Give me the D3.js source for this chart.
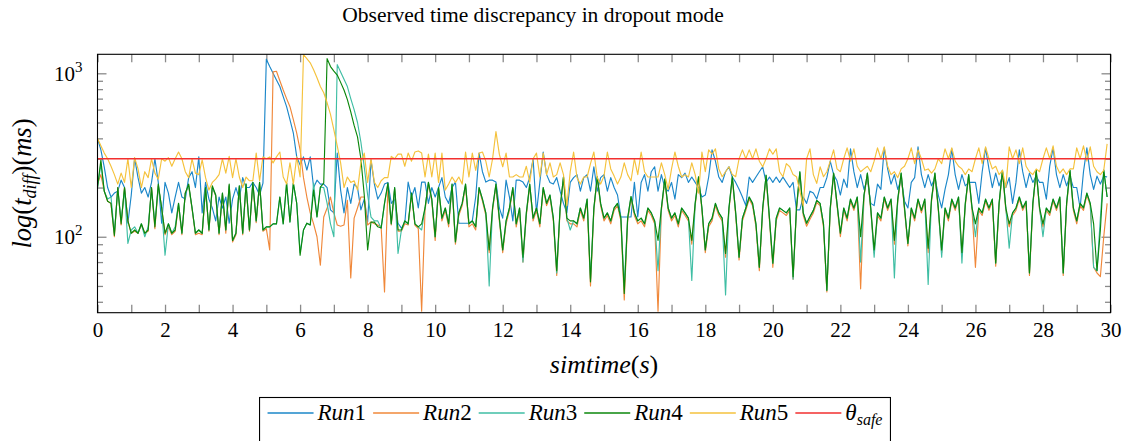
<!DOCTYPE html>
<html>
<head>
<meta charset="utf-8">
<title>Observed time discrepancy in dropout mode</title>
<script src="https://d3js.org/d3.v7.min.js"></script>
<style>
  body { margin: 0; background: #fff; }
  svg text { font-family: "Liberation Serif", "Times New Roman", serif; fill: #000; }
</style>
</head>
<body>
<div id="chart"></div>
<script>
// sample spacing of every run (s)
var dt = 0.1;

// t_diff (ms), one row per second of simtime
var run1 = [
  400, 340, 267, 200, 175, 185, 190, 222, 200, 121,
  180, 303, 230, 185, 200, 175, 215, 300, 215, 121,
  215, 185, 140, 175, 215, 175, 170, 230, 250, 200,
  308, 140, 215, 170, 150, 125, 175, 150, 175, 121,
  170, 200, 170, 230, 200, 200, 215, 200, 180, 213,
  1220, 1100, 1000, 910, 830, 720, 625, 520, 430, 308,
  275, 308, 256, 308, 200, 222, 210, 210, 200, 146,
  140, 325, 193, 140, 200, 160, 210, 200, 146, 170,
  123, 295, 210, 170, 185, 210, 215, 160, 170, 121,
  113, 121, 216, 175, 200, 150, 216, 216, 160, 200,
  175, 200, 230, 175, 160, 200, 216, 121, 121, 121,
  121, 125, 175, 325, 250, 216, 222, 222, 216, 150,
  130, 222, 175, 125, 222, 222, 216, 200, 230, 300,
  140, 215, 330, 240, 215, 210, 230, 190, 160, 140,
  215, 230, 240, 190, 230, 240, 190, 268, 190, 230,
  240, 190, 230, 200, 180, 132, 132, 132, 132, 215,
  132, 215, 240, 190, 250, 268, 190, 240, 200, 190,
  215, 170, 240, 230, 245, 215, 232, 215, 200, 175,
  180, 232, 340, 290, 232, 215, 250, 268, 232, 215,
  195, 175, 155, 232, 215, 232, 250, 268, 215, 232,
  215, 232, 215, 232, 215, 200, 215, 146, 146, 175,
  160, 190, 185, 170, 200, 200, 230, 290, 240, 220,
  180, 225, 200, 345, 250, 200, 240, 195, 225, 160,
  155, 210, 195, 350, 260, 210, 240, 195, 225, 165,
  150, 215, 230, 355, 240, 200, 240, 205, 230, 180,
  150, 195, 240, 345, 240, 195, 240, 205, 215, 215,
  215, 160, 250, 350, 260, 200, 245, 205, 235, 200,
  230, 160, 215, 340, 250, 200, 245, 215, 235, 215,
  215, 170, 270, 350, 240, 200, 240, 205, 235, 200,
  200, 150, 250, 350, 240, 195, 235, 210, 235, 232
];
var run2 = [
  210, 240, 190, 165, 160, 100, 200, 118, 200, 125,
  105, 108, 105, 118, 105, 108, 200, 112, 205, 150,
  103, 115, 103, 108, 155, 103, 185, 205, 148, 103,
  105, 103, 195, 108, 200, 178, 103, 182, 105, 205,
  93, 103, 200, 103, 205, 108, 210, 122, 210, 108,
  112, 83, 1020, 1030, 900, 790, 700, 625, 520, 430,
  340, 230, 175, 140, 120, 100, 67, 132, 150, 175,
  140, 118, 116, 118, 167, 56, 130, 150, 175, 175,
  118, 123, 120, 118, 115, 46, 200, 118, 195, 108,
  108, 120, 118, 180, 118, 112, 35, 145, 210, 165,
  95, 195, 125, 145, 115, 205, 90, 135, 155, 205,
  115, 120, 110, 195, 165, 135, 80, 145, 205, 125,
  80, 120, 145, 195, 115, 145, 70, 135, 205, 125,
  145, 115, 195, 155, 175, 125, 58, 145, 228, 125,
  120, 120, 115, 145, 125, 165, 50, 145, 228, 155,
  125, 135, 120, 145, 155, 125, 41, 125, 172, 135,
  120, 125, 115, 145, 135, 120, 35, 145, 220, 145,
  125, 135, 115, 145, 135, 125, 90, 155, 228, 145,
  80, 115, 125, 155, 135, 125, 75, 145, 228, 135,
  72, 125, 145, 170, 155, 115, 62, 145, 232, 125,
  65, 125, 145, 140, 135, 145, 55, 145, 245, 135,
  116, 128, 140, 162, 155, 115, 46, 145, 240, 155,
  100, 145, 125, 165, 145, 170, 48, 175, 240, 145,
  80, 135, 125, 170, 145, 165, 90, 165, 240, 145,
  88, 145, 125, 165, 140, 165, 80, 165, 240, 145,
  80, 145, 125, 165, 145, 170, 77, 155, 235, 145,
  65, 145, 135, 165, 145, 165, 66, 155, 250, 145,
  115, 135, 145, 170, 145, 160, 58, 155, 250, 145,
  115, 145, 135, 165, 145, 170, 58, 155, 250, 145,
  120, 155, 145, 180, 155, 65, 60, 57, 100, 160
];
var run3 = [
  200, 280, 190, 170, 175, 105, 195, 125, 195, 91,
  110, 115, 105, 120, 100, 115, 195, 120, 205, 150,
  77, 120, 105, 115, 160, 105, 185, 205, 150, 105,
  110, 105, 200, 110, 200, 180, 105, 185, 110, 205,
  95, 105, 205, 105, 210, 110, 215, 125, 215, 110,
  115, 115, 120, 120, 175, 120, 213, 123, 213, 160,
  80, 110, 121, 118, 213, 132, 201, 200, 160, 120,
  100, 1130, 1020, 920, 830, 700, 600, 500, 380, 267,
  180, 132, 125, 125, 113, 160, 210, 120, 200, 79,
  110, 125, 120, 185, 120, 115, 110, 150, 215, 170,
  100, 200, 130, 150, 120, 210, 93, 140, 160, 210,
  120, 125, 115, 200, 170, 140, 50, 150, 210, 130,
  83, 125, 150, 200, 120, 150, 70, 140, 210, 130,
  150, 120, 200, 160, 180, 130, 60, 150, 233, 130,
  110, 125, 120, 150, 130, 170, 55, 150, 233, 160,
  130, 140, 125, 150, 160, 130, 50, 130, 176, 140,
  125, 130, 120, 150, 140, 125, 62, 150, 225, 150,
  130, 140, 120, 150, 140, 130, 54, 160, 233, 150,
  83, 120, 130, 160, 140, 130, 44, 150, 233, 140,
  75, 130, 150, 175, 160, 120, 65, 150, 238, 130,
  69, 130, 150, 145, 140, 150, 55, 150, 250, 140,
  121, 133, 145, 167, 160, 120, 47, 150, 245, 160,
  105, 150, 130, 170, 150, 175, 70, 180, 245, 150,
  75, 140, 130, 175, 150, 170, 56, 170, 245, 150,
  91, 150, 130, 170, 145, 170, 51, 170, 245, 150,
  75, 150, 130, 170, 150, 175, 69, 160, 240, 150,
  100, 150, 140, 170, 150, 170, 69, 160, 255, 150,
  85, 140, 150, 175, 150, 165, 60, 160, 255, 150,
  100, 150, 140, 170, 150, 175, 60, 160, 255, 150,
  125, 160, 150, 185, 160, 65, 62, 130, 256, 175
];
var run4 = [
  200, 295, 190, 165, 160, 102, 200, 120, 200, 125,
  105, 110, 105, 120, 105, 110, 200, 115, 210, 150,
  105, 120, 105, 110, 160, 105, 185, 210, 150, 105,
  110, 105, 200, 110, 205, 180, 105, 185, 110, 210,
  95, 105, 205, 105, 210, 110, 215, 125, 215, 110,
  115, 115, 120, 120, 175, 120, 213, 123, 213, 160,
  77, 110, 121, 118, 193, 132, 201, 213, 1230, 1100,
  1030, 975, 880, 790, 690, 580, 480, 408, 300, 180,
  83, 123, 123, 115, 113, 160, 213, 120, 200, 110,
  110, 125, 120, 185, 120, 115, 120, 150, 215, 170,
  100, 200, 130, 150, 120, 210, 93, 140, 160, 210,
  120, 125, 115, 200, 170, 140, 83, 150, 210, 130,
  83, 125, 150, 200, 120, 150, 75, 140, 210, 130,
  150, 120, 200, 160, 180, 130, 62, 150, 233, 130,
  125, 125, 120, 150, 130, 170, 53, 150, 233, 160,
  130, 140, 125, 150, 160, 130, 45, 130, 176, 140,
  125, 130, 120, 150, 140, 125, 95, 150, 225, 150,
  130, 140, 120, 150, 140, 130, 95, 160, 233, 150,
  83, 120, 130, 160, 140, 130, 79, 150, 233, 140,
  75, 130, 150, 175, 160, 120, 65, 150, 238, 130,
  69, 130, 150, 145, 140, 150, 57, 150, 250, 140,
  121, 133, 145, 167, 160, 120, 47, 150, 245, 160,
  105, 150, 130, 170, 150, 175, 100, 180, 245, 150,
  83, 140, 130, 175, 150, 170, 95, 170, 245, 150,
  91, 150, 130, 170, 145, 170, 85, 170, 245, 150,
  83, 150, 130, 170, 150, 175, 80, 160, 240, 150,
  120, 150, 140, 170, 150, 170, 69, 160, 255, 150,
  120, 140, 150, 175, 150, 165, 60, 160, 255, 150,
  120, 150, 140, 170, 150, 175, 60, 160, 255, 150,
  125, 160, 150, 185, 160, 120, 62, 110, 256, 175
];
var run5 = [
  400, 360, 325, 300, 270, 240, 210, 245, 215, 300,
  200, 305, 260, 200, 250, 230, 300, 245, 225, 300,
  290, 305, 270, 300, 330, 300, 250, 230, 300, 245,
  240, 295, 230, 193, 215, 225, 240, 300, 245, 310,
  230, 300, 232, 200, 232, 220, 220, 325, 220, 308,
  300, 308, 283, 308, 330, 232, 210, 283, 210, 308,
  232, 1300, 1230, 1160, 1050, 940, 830, 760, 660, 560,
  450, 360, 283, 200, 232, 215, 220, 193, 283, 325,
  215, 300, 215, 200, 220, 230, 230, 310, 300, 320,
  320, 270, 325, 290, 330, 335, 325, 232, 320, 232,
  325, 215, 325, 193, 210, 232, 215, 232, 210, 330,
  232, 325, 255, 325, 330, 290, 232, 300, 440, 320,
  268, 325, 232, 232, 240, 232, 232, 270, 215, 300,
  325, 232, 325, 240, 283, 232, 240, 283, 240, 155,
  250, 330, 230, 210, 232, 232, 280, 330, 230, 210,
  235, 330, 260, 235, 210, 232, 283, 240, 220, 300,
  240, 330, 250, 232, 232, 232, 232, 283, 240, 195,
  260, 330, 270, 232, 240, 232, 283, 240, 185, 330,
  250, 340, 320, 345, 260, 233, 250, 268, 240, 233,
  300, 340, 300, 340, 300, 345, 290, 268, 300, 345,
  320, 345, 250, 233, 280, 268, 240, 233, 190, 155,
  300, 345, 240, 212, 268, 233, 250, 290, 340, 260,
  250, 300, 350, 290, 345, 270, 250, 260, 270, 250,
  290, 350, 300, 355, 270, 240, 250, 230, 260, 270,
  300, 350, 280, 340, 300, 255, 260, 245, 260, 300,
  280, 345, 300, 350, 290, 270, 260, 240, 260, 250,
  300, 350, 280, 355, 300, 260, 270, 240, 255, 200,
  355, 300, 340, 280, 350, 270, 250, 240, 260, 250,
  300, 350, 300, 360, 270, 245, 260, 240, 260, 260,
  350, 300, 360, 290, 355, 270, 250, 240, 255, 370
];
var thetaSafe = 300;

var seriesNames = ["Run", "Run", "Run", "Run", "Run"];
var seriesNums = ["1", "2", "3", "4", "5"];
var seriesColors = ["#1b87c9", "#f0883a", "#3fbea4", "#0b870b", "#f5c23c"];
var safeColor = "#f22f2f";

var xTickLabels = [0, 2, 4, 6, 8, 10, 12, 14, 16, 18, 20, 22, 24, 26, 28, 30];
var yMajor = [100, 1000];
var yMajorExp = ["2", "3"];
var yMinor = [40, 50, 60, 70, 80, 90, 200, 300, 400, 500, 600, 700, 800, 900];

var W = 1131, H = 441;
var plot = { left: 97.5, right: 1110.5, top: 54.3, bottom: 312.7 };
var serif = '"Liberation Serif", "Times New Roman", serif';

var svg = d3.select('#chart').append('svg')
  .attr('width', W).attr('height', H);

var x = d3.scaleLinear().domain([0, 30]).range([plot.left, plot.right]);
var y = d3.scaleLog().domain([34.3, 1307]).range([plot.bottom, plot.top]);

svg.append('defs').append('clipPath').attr('id', 'clip')
  .append('rect')
  .attr('x', plot.left).attr('y', plot.top)
  .attr('width', plot.right - plot.left).attr('height', plot.bottom - plot.top);

// inner ticks (grey), every second on x, log minors on y
var tickColor = '#8a8a8a';
function styleTicks(g) {
  g.select('.domain').remove();
  g.selectAll('line').attr('stroke', tickColor).attr('stroke-width', 1.3);
  g.selectAll('text').remove();
}
var xInt = d3.range(0, 31);
svg.append('g').attr('transform', 'translate(0,' + plot.bottom + ')')
  .call(d3.axisBottom(x).tickValues(xInt).tickSize(-8)).call(styleTicks);
svg.append('g').attr('transform', 'translate(0,' + plot.top + ')')
  .call(d3.axisTop(x).tickValues(xInt).tickSize(-8)).call(styleTicks);
svg.append('g').attr('transform', 'translate(' + plot.left + ',0)')
  .call(d3.axisLeft(y).tickValues(yMajor).tickSize(-9)).call(styleTicks);
svg.append('g').attr('transform', 'translate(' + plot.left + ',0)')
  .call(d3.axisLeft(y).tickValues(yMinor).tickSize(-5.5)).call(styleTicks);
svg.append('g').attr('transform', 'translate(' + plot.right + ',0)')
  .call(d3.axisRight(y).tickValues(yMajor).tickSize(-9)).call(styleTicks);
svg.append('g').attr('transform', 'translate(' + plot.right + ',0)')
  .call(d3.axisRight(y).tickValues(yMinor).tickSize(-5.5)).call(styleTicks);

// x tick labels
var xLab = svg.append('g').attr('transform', 'translate(0,' + plot.bottom + ')')
  .call(d3.axisBottom(x).tickValues(xTickLabels).tickSize(0).tickPadding(9.5).tickFormat(d3.format('d')));
xLab.attr('font-family', serif).attr('font-size', 21);
xLab.select('.domain').remove();
xLab.selectAll('text').attr('font-family', serif).attr('font-size', 21).attr('fill', '#000');

// y tick labels 10^k
yMajor.forEach(function(v, i) {
  var t = svg.append('text')
    .attr('x', plot.left - 15).attr('y', y(v) + 7.5)
    .attr('font-family', serif)
    .attr('text-anchor', 'end').attr('font-size', 21);
  t.append('tspan').text('10');
  t.append('tspan').attr('font-size', 15).attr('dy', -9).text(yMajorExp[i]);
});

// lines
var line = d3.line()
  .x(function(d, i) { return x(i * dt); })
  .y(function(d) { return y(d); });

var runs = [run1, run2, run3, run4, run5];
var gLines = svg.append('g').attr('clip-path', 'url(#clip)');
runs.forEach(function(r, i) {
  gLines.append('path')
    .datum(r)
    .attr('d', line)
    .attr('fill', 'none')
    .attr('stroke', seriesColors[i])
    .attr('stroke-width', 1.15)
    .attr('stroke-linejoin', 'round');
});
gLines.append('line')
  .attr('x1', x(0)).attr('x2', x(30))
  .attr('y1', y(thetaSafe)).attr('y2', y(thetaSafe))
  .attr('stroke', safeColor).attr('stroke-width', 1.3);

// frame
svg.append('rect')
  .attr('x', plot.left).attr('y', plot.top)
  .attr('width', plot.right - plot.left).attr('height', plot.bottom - plot.top)
  .attr('fill', 'none').attr('stroke', '#000').attr('stroke-width', 1.1);

// title
svg.append('text')
  .attr('x', 533).attr('y', 22)
  .attr('font-family', serif)
  .attr('text-anchor', 'middle').attr('font-size', 21.5)
  .text('Observed time discrepancy in dropout mode');

// x label: simtime(s)
var xl = svg.append('text')
  .attr('x', (plot.left + plot.right) / 2).attr('y', 373)
  .attr('font-family', serif)
  .attr('text-anchor', 'middle').attr('font-size', 26);
xl.append('tspan').attr('font-style', 'italic').text('simtime');
xl.append('tspan').text('(');
xl.append('tspan').attr('font-style', 'italic').text('s');
xl.append('tspan').text(')');

// y label: log(t_diff)(ms)
var yl = svg.append('text')
  .attr('transform', 'translate(31,' + ((plot.top + plot.bottom) / 2) + ') rotate(-90)')
  .attr('font-family', serif)
  .attr('text-anchor', 'middle').attr('font-size', 26.5);
yl.append('tspan').attr('font-style', 'italic').text('log');
yl.append('tspan').text('(');
yl.append('tspan').attr('font-style', 'italic').text('t');
yl.append('tspan').attr('font-style', 'italic').attr('font-size', 18).attr('dy', 5).text('diff');
yl.append('tspan').attr('dy', -5).text(')(');
yl.append('tspan').attr('font-style', 'italic').text('ms');
yl.append('tspan').text(')');

// legend
var legTop = 397.5, legY = 420, fsLeg = 23, legCenter = 575;
var leg = svg.append('g');
var items = seriesNames.map(function(n, i) { return { name: n, num: seriesNums[i], color: seriesColors[i] }; });
items.push({ name: '\u03b8', num: null, color: safeColor });
var cx = 0;
items.forEach(function(it) {
  var g = leg.append('g');
  g.append('line').attr('x1', cx).attr('x2', cx + 46).attr('y1', legY - 7).attr('y2', legY - 7)
    .attr('stroke', it.color).attr('stroke-width', 1.3);
  var t = g.append('text').attr('x', cx + 50).attr('y', legY)
    .attr('font-family', serif).attr('font-size', fsLeg);
  t.append('tspan').attr('font-style', 'italic').text(it.name);
  if (it.num !== null) {
    t.append('tspan').text(it.num);
  } else {
    t.append('tspan').attr('font-style', 'italic').attr('font-size', 16).attr('dy', 5).text('safe');
  }
  var w = t.node().getComputedTextLength();
  cx = cx + 50 + w + 7;
});
var legW = cx - 7;
var legLeft = legCenter - (legW + 16) / 2;
leg.attr('transform', 'translate(' + (legLeft + 8) + ',0)');
svg.insert('rect', 'g')
  .attr('x', legLeft).attr('y', legTop)
  .attr('width', legW + 16).attr('height', H - legTop + 5)
  .attr('fill', '#fff').attr('stroke', '#000').attr('stroke-width', 1.1);
</script>
</body>
</html>
